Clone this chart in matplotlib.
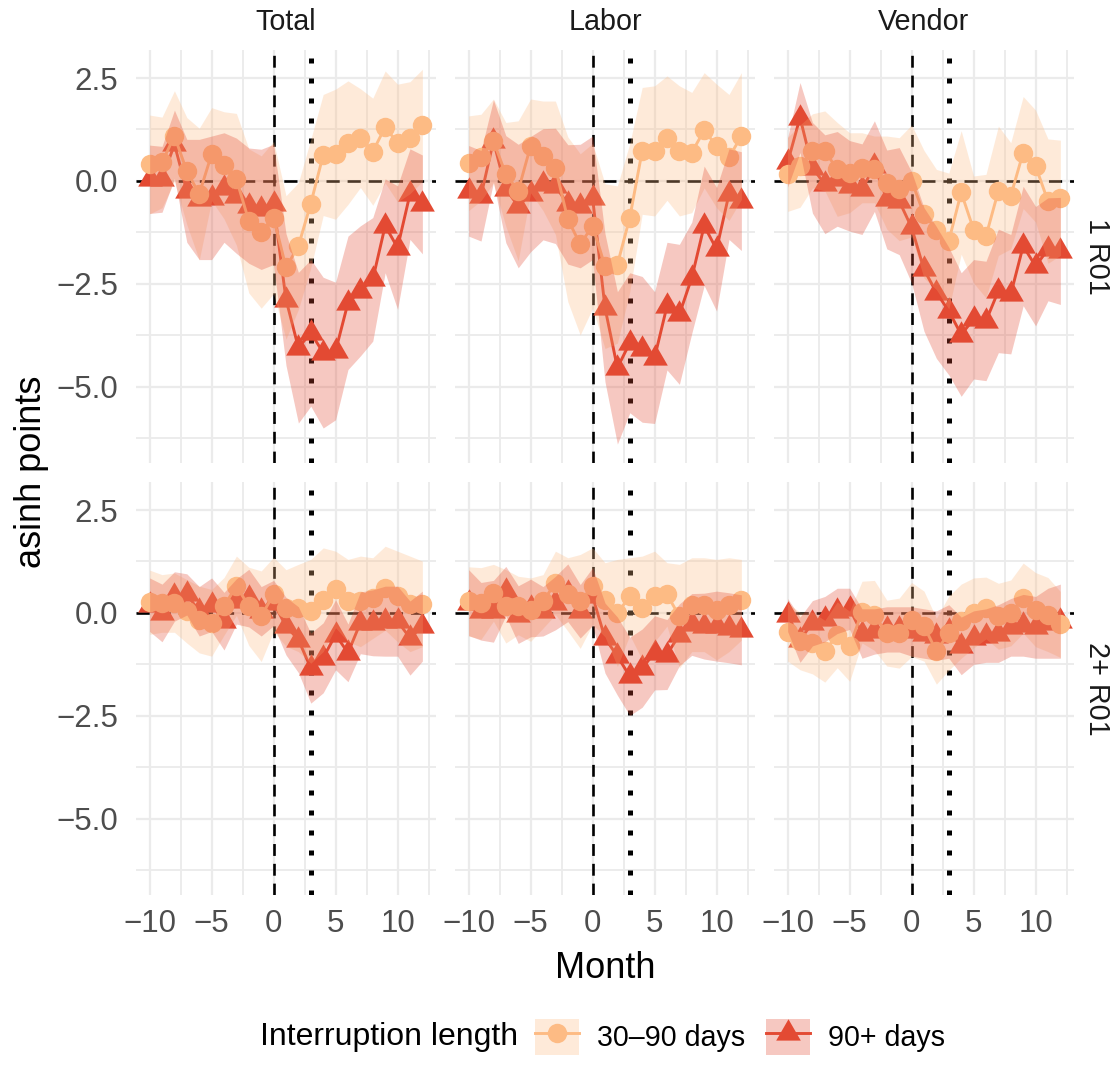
import numpy as np
import matplotlib
matplotlib.use('Agg')
import matplotlib.pyplot as plt
from matplotlib.lines import Line2D
from matplotlib.patches import Patch
from matplotlib.path import Path
from matplotlib.legend_handler import HandlerTuple

plt.rcParams['font.family'] = ['Liberation Sans', 'DejaVu Sans']

# ---- data ----
months = list(range(-10, 13))
measures = ['Total', 'Labor', 'Vendor']
cohorts = ['1 R01', '2+ R01']
groups = ['30\u201390 days', '90+ days']
colors = ['#FDBB84', '#E34A33']

x_ticks = [-10, -5, 0, 5, 10]
x_labels = ['\u221210', '\u22125', '0', '5', '10']
y_ticks = [-5.0, -2.5, 0.0, 2.5]
y_labels = ['\u22125.0', '\u22122.5', '0.0', '2.5']

# estimates and half-width of the confidence band
total_1_short = [0.40, 0.45, 1.09, 0.24, -0.32, 0.65, 0.38, 0.04, -0.97, -1.24, -0.89, -2.10,
                 -1.58, -0.55, 0.63, 0.65, 0.93, 1.04, 0.71, 1.31, 0.92, 1.05, 1.35]
total_1_short_hw = [1.2, 1.1, 1.1, 1.3, 1.6, 1.13, 1.3, 1.6, 1.75, 1.85, 1.85, 1.74,
                    1.54, 1.56, 1.47, 1.58, 1.5, 1.2, 1.3, 1.36, 1.43, 1.36, 1.36]
total_1_long = [0.04, 0.04, 0.89, -0.24, -0.45, -0.41, -0.16, -0.36, -0.60, -0.69, -0.57, -2.88,
                -4.05, -3.69, -4.17, -4.13, -2.96, -2.67, -2.39, -1.09, -1.62, -0.32, -0.57]
total_1_long_hw = [0.83, 0.8, 0.83, 1.25, 1.46, 1.5, 1.33, 1.4, 1.4, 1.46, 1.46, 1.6,
                   1.83, 1.78, 1.83, 1.67, 1.62, 1.58, 1.5, 1.14, 1.5, 1.1, 1.2]

labor_1_short = [0.43, 0.57, 0.97, 0.16, -0.24, 0.85, 0.61, 0.32, -0.93, -1.54, -1.09, -2.07,
                 -2.03, -0.89, 0.73, 0.73, 1.04, 0.73, 0.69, 1.23, 0.85, 0.57, 1.09]
labor_1_short_hw = [1.15, 1.05, 1.02, 1.26, 1.7, 1.14, 1.33, 1.62, 2.0, 2.2, 2.0, 2.0,
                    1.91, 1.8, 1.54, 1.58, 1.51, 1.58, 1.46, 1.4, 1.5, 1.53, 1.54]
labor_1_long = [-0.24, -0.36, 0.97, -0.20, -0.61, -0.32, -0.08, -0.12, -0.57, -0.61, -0.41, -3.08,
                -4.54, -3.93, -4.09, -4.29, -3.04, -3.24, -2.35, -1.09, -1.66, -0.32, -0.49]
labor_1_long_hw = [1.1, 1.1, 1.0, 1.3, 1.5, 1.4, 1.35, 1.4, 1.45, 1.5, 1.5, 1.8,
                   1.85, 1.7, 1.77, 1.6, 1.55, 1.7, 1.35, 1.45, 1.5, 1.1, 1.2]

vendor_1_short = [0.16, 0.36, 0.73, 0.73, 0.28, 0.20, 0.32, 0.28, -0.04, -0.20, 0.00, -0.81,
                  -1.18, -1.46, -0.28, -1.18, -1.34, -0.24, -0.36, 0.69, 0.36, -0.49, -0.41]
vendor_1_short_hw = [0.9, 1.0, 0.9, 0.97, 1.14, 0.97, 0.85, 0.81, 1.13, 1.25, 1.36, 1.55,
                     1.46, 1.65, 1.5, 1.3, 1.5, 1.57, 1.29, 1.36, 1.36, 1.51, 1.4]
vendor_1_long = [0.45, 1.54, 0.32, -0.08, 0.05, -0.12, -0.20, 0.36, -0.45, -0.49, -1.13, -2.15,
                 -2.71, -3.16, -3.73, -3.36, -3.40, -2.67, -2.75, -1.58, -2.07, -1.66, -1.70]
vendor_1_long_hw = [0.6, 0.85, 1.1, 1.2, 1.15, 1.1, 1.1, 1.1, 1.2, 1.3, 1.35, 1.5,
                    1.6, 1.55, 1.5, 1.45, 1.45, 1.5, 1.45, 1.45, 1.45, 1.25, 1.3]

total_2_short = [0.26, 0.23, 0.25, 0.04, -0.16, -0.24, 0.16, 0.66, 0.16, -0.08, 0.45, 0.12,
                 0.12, 0.04, 0.32, 0.57, 0.30, 0.28, 0.36, 0.60, 0.40, 0.22, 0.22]
total_2_short_hw = [0.78, 0.7, 0.72, 0.77, 0.81, 0.81, 0.7, 0.72, 0.95, 1.1, 0.9, 0.93,
                    1.06, 1.26, 1.26, 0.93, 1.0, 1.1, 0.98, 1.02, 1.1, 1.16, 1.04]
total_2_long = [0.20, 0.00, 0.40, 0.45, 0.04, 0.20, -0.20, 0.28, 0.36, 0.04, 0.24, -0.32,
                -0.65, -1.34, -1.09, -0.53, -0.97, -0.24, -0.24, -0.20, -0.20, -0.61, -0.32]
total_2_long_hw = [0.65, 0.7, 0.6, 0.5, 0.6, 0.65, 0.7, 0.55, 0.7, 0.6, 0.55, 0.7,
                   0.8, 0.85, 0.85, 0.85, 0.7, 0.75, 0.8, 0.85, 0.85, 0.9, 0.85]

labor_2_short = [0.28, 0.23, 0.49, 0.16, 0.18, 0.08, 0.28, 0.73, 0.45, 0.28, 0.65, 0.32,
                 0.00, 0.40, 0.12, 0.40, 0.45, -0.08, 0.20, 0.20, 0.08, 0.20, 0.32]
labor_2_short_hw = [0.84, 0.87, 0.69, 0.89, 0.71, 0.77, 0.65, 0.77, 0.89, 1.14, 0.93, 0.9,
                    1.3, 0.94, 1.26, 1.1, 0.77, 1.26, 1.14, 1.14, 1.22, 1.14, 0.98]
labor_2_long = [0.25, 0.04, 0.04, 0.53, -0.04, 0.12, 0.04, 0.24, 0.49, 0.04, 0.40, -0.61,
                -1.05, -1.54, -1.34, -0.97, -1.01, -0.53, -0.28, -0.32, -0.32, -0.36, -0.41]
labor_2_long_hw = [0.8, 0.7, 0.75, 0.6, 0.7, 0.7, 0.6, 0.65, 0.7, 0.65, 0.7, 0.85,
                   0.95, 0.95, 0.95, 0.9, 0.85, 0.75, 0.75, 0.8, 0.85, 0.85, 0.85]

vendor_2_short = [-0.47, -0.68, -0.73, -0.93, -0.53, -0.81, 0.02, -0.06, -0.49, -0.49, -0.16, -0.32,
                  -0.93, -0.49, -0.20, 0.00, 0.12, -0.08, 0.00, 0.36, 0.08, -0.04, -0.28]
vendor_2_short_hw = [0.7, 0.7, 0.75, 0.75, 0.8, 0.85, 0.75, 0.85, 0.8, 0.85, 0.9, 0.85,
                     0.8, 0.9, 0.9, 0.85, 0.75, 0.8, 0.8, 0.85, 0.9, 0.9, 0.8]
vendor_2_long = [-0.05, -0.65, -0.25, -0.15, 0.05, 0.10, -0.50, -0.45, -0.40, -0.40, -0.45, -0.50,
                 -0.55, -0.45, -0.80, -0.60, -0.55, -0.50, -0.35, -0.30, -0.35, -0.25, -0.20]
vendor_2_long_hw = [0.4, 0.55, 0.55, 0.55, 0.55, 0.5, 0.6, 0.55, 0.55, 0.55, 0.6, 0.6,
                    0.6, 0.65, 0.7, 0.65, 0.65, 0.7, 0.7, 0.75, 0.75, 0.85, 0.9]

panels = {
    ('Total', '1 R01'): (total_1_short, total_1_short_hw, total_1_long, total_1_long_hw),
    ('Labor', '1 R01'): (labor_1_short, labor_1_short_hw, labor_1_long, labor_1_long_hw),
    ('Vendor', '1 R01'): (vendor_1_short, vendor_1_short_hw, vendor_1_long, vendor_1_long_hw),
    ('Total', '2+ R01'): (total_2_short, total_2_short_hw, total_2_long, total_2_long_hw),
    ('Labor', '2+ R01'): (labor_2_short, labor_2_short_hw, labor_2_long, labor_2_long_hw),
    ('Vendor', '2+ R01'): (vendor_2_short, vendor_2_short_hw, vendor_2_long, vendor_2_long_hw),
}

# ggplot-like filled triangle, centred on its centroid
tri = Path([(0, 1), (-0.866, -0.5), (0.866, -0.5), (0, 1)],
           [Path.MOVETO, Path.LINETO, Path.LINETO, Path.CLOSEPOLY])
markers = ['o', tri]
msizes = [14, 20.5]

W, H = 1114, 1086
fig = plt.figure(figsize=(W / 100, H / 100), dpi=100)
fig.patch.set_facecolor('white')

col_x = [136, 455, 774]
row_y = [50, 482]
pw, ph = 300, 413
grid_col = '#EBEBEB'

for r, cohort in enumerate(cohorts):
    for c, measure in enumerate(measures):
        ax = fig.add_axes([col_x[c] / W, 1 - (row_y[r] + ph) / H, pw / W, ph / H])
        s_est, s_hw, l_est, l_hw = [np.array(v) for v in panels[(measure, cohort)]]

        # reference lines sit under the ribbons
        ax.axhline(0, color='black', lw=1.9, ls=(0, (5, 3)), zorder=1)
        ax.axvline(0, color='black', lw=1.9, ls=(0, (4.5, 3)), zorder=1)
        ax.axvline(3, color='black', lw=3.6, ls=(0, (1, 3)), zorder=1)

        ax.plot(months, l_est, color=colors[1], lw=2.1, marker=tri, ms=msizes[1], mew=0, zorder=2)
        ax.plot(months, s_est, color=colors[0], lw=2.1, marker='o', ms=msizes[0], mew=0, zorder=3)
        ax.fill_between(months, s_est - s_hw, s_est + s_hw, color=colors[0], alpha=0.3, lw=0, zorder=4)
        ax.fill_between(months, l_est - l_hw, l_est + l_hw, color=colors[1], alpha=0.3, lw=0, zorder=5)

        ax.set_xlim(-11.1, 13.1)
        ax.set_ylim(-6.85, 3.18)
        ax.set_xticks(x_ticks)
        ax.set_xticks([-7.5, -2.5, 2.5, 7.5, 12.5], minor=True)
        ax.set_yticks(y_ticks)
        ax.set_yticks([-6.25, -3.75, -1.25, 1.25], minor=True)
        ax.set_xticklabels(x_labels if r == 1 else [])
        ax.set_yticklabels(y_labels if c == 0 else [])
        ax.tick_params(which='both', length=0)
        ax.tick_params(axis='x', labelsize=22.5, labelcolor='#4D4D4D', pad=10)
        ax.tick_params(axis='y', labelsize=22.5, labelcolor='#4D4D4D', pad=13)
        ax.grid(True, which='major', color=grid_col, lw=1.6)
        ax.grid(True, which='minor', color=grid_col, lw=1.3)
        ax.set_axisbelow(True)
        for sp in ax.spines.values():
            sp.set_visible(False)

        if r == 0:
            fig.text((col_x[c] + pw / 2) / W, 1 - 22 / H, measure, ha='center', va='center',
                     fontsize=20.7, color='#1A1A1A')
    fig.text(1097 / W, 1 - (row_y[r] + ph / 2) / H, cohort, rotation=-90, ha='center', va='center',
             fontsize=20.7, color='#1A1A1A')

fig.text(605 / W, 1 - 968 / H, 'Month', ha='center', va='center', fontsize=26)
fig.text(32 / W, 1 - 472 / H, 'asinh points', ha='center', va='center', rotation=90, fontsize=26)

# legend: title on the left, keys with ribbon fill behind line + marker
fig.text(260 / W, 1 - 1037 / H, 'Interruption length', ha='left', va='center', fontsize=23)
handles = [(Patch(facecolor=colors[i], alpha=0.3, lw=0),
            Line2D([], [], color=colors[i], lw=2.1, marker=markers[i], ms=msizes[i], mew=0))
           for i in range(2)]
fig.legend(handles, groups, handler_map={tuple: HandlerTuple(ndivide=1)},
           loc='center left', bbox_to_anchor=(535 / W, 1 - 1037 / H), ncol=2, frameon=False,
           fontsize=20.6, handlelength=1.55, handleheight=1.55, handletextpad=0.6,
           columnspacing=0.75, borderpad=0, borderaxespad=0)

fig.savefig('out.png', dpi=100)
